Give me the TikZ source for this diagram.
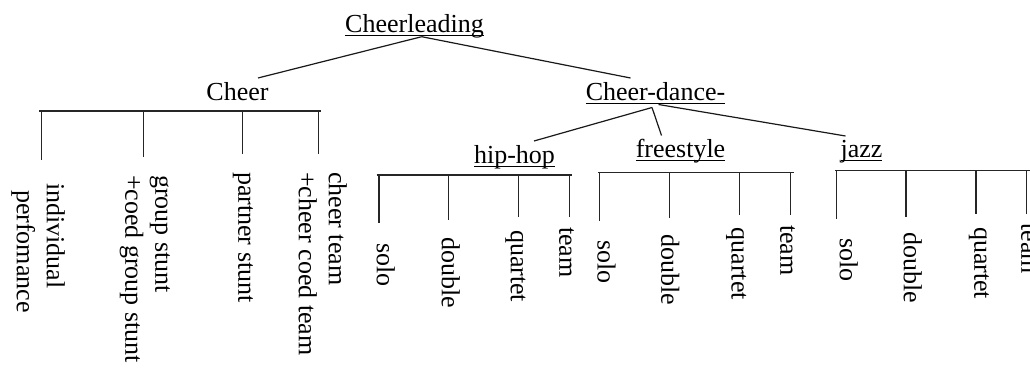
\documentclass[tikz,border=0pt]{standalone}
\usepackage{fontspec}
\setmainfont{Liberation Serif}
% underline at a fixed depth below the baseline, crossing descenders
\newcommand\ulword[1]{\setbox0=\hbox{#1}\rlap{\rule[-3.8pt]{\wd0}{1.2pt}}\box0}

\begin{document}
\begin{tikzpicture}[x=1pt,y=-1pt,
  every node/.style={inner sep=0pt, outer sep=0pt,
    font=\fontsize{26pt}{30pt}\selectfont},
  head/.style={anchor=base},
  leaf/.style={rotate=-90, anchor=north west, align=left},
  link/.style={line width=1.2pt, draw=black!90},
  rail/.style={line width=1.3pt, draw=black!85}]

\useasboundingbox[fill=white] (0,0) rectangle (1030,369);

% ---- category headings
\node[head] (root)   at (414.5,32.5) {\ulword{Cheerleading}};
\node[head] (cheer)  at (237.5,100)  {Cheer};
\node[head] (dance)  at (655.5,100)  {\ulword{Cheer-dance-}};
\node[head] (hiphop) at (514.5,163)  {\ulword{hip-hop}};
\node[head] (free)   at (680.5,157)  {\ulword{freestyle}};
\node[head] (jazz)   at (861.5,157)  {\ulword{jazz}};

% ---- links between headings
\draw[link] ([xshift=7.2pt,yshift=-4.2pt]root.base) -- ([xshift=20.5pt,yshift=22pt]cheer.base);
\draw[link] ([xshift=7.2pt,yshift=-4.2pt]root.base) -- ([xshift=-25pt,yshift=22pt]dance.base);
\draw[link] ([xshift=-3.5pt,yshift=-7.5pt]dance.base) -- ([xshift=19.5pt,yshift=22pt]hiphop.base);
\draw[link] ([xshift=-3.5pt,yshift=-7.5pt]dance.base) -- ([xshift=-19pt,yshift=21.5pt]free.base);
\draw[link] ([xshift=3pt,yshift=-4.5pt]dance.base) -- ([xshift=-16pt,yshift=21pt]jazz.base);

% ---- Cheer events
\node[leaf] (c1) at (65,183)  {individual\\\hspace*{7pt}perfomance};
\node[leaf] (c2) at (170,175) {group stunt\\+coed group stunt};
\node[leaf] (c3) at (253,172) {partner stunt};
\node[leaf] (c4) at (347,172) {cheer team\\+cheer coed team};

\coordinate (cbarL) at (39.3,111);
\coordinate (cbarR) at (321,111);
\coordinate (c1e) at (41.7,160);
\coordinate (c2e) at (143.5,157);
\coordinate (c3e) at (242.8,154);
\coordinate (c4e) at (318.3,154);
\draw[rail] (cbarL) -- (cbarR);
\foreach \e in {c1e,c2e,c3e,c4e} \draw[rail] (\e |- cbarL) -- (\e);

% ---- hip-hop events
\node[leaf] (h1) at (395,243)   {solo};
\node[leaf] (h2) at (460,237)   {double};
\node[leaf] (h3) at (525.4,230) {quartet};
\node[leaf] (h4) at (574,227)   {team};

\coordinate (hbarL) at (376.7,175);
\coordinate (hbarR) at (572,175);
\coordinate (h1e) at (379,222.7);
\coordinate (h2e) at (448.3,220);
\coordinate (h3e) at (518.2,216.7);
\coordinate (h4e) at (569.3,216.7);
\draw[rail] (hbarL) -- (hbarR);
\foreach \e in {h1e,h2e,h3e,h4e} \draw[rail] (\e |- hbarL) -- (\e);

% ---- freestyle events
\node[leaf] (f1) at (615.7,240)   {solo};
\node[leaf] (f2) at (679.3,234.4) {double};
\node[leaf] (f3) at (746.3,227.7) {quartet};
\node[leaf] (f4) at (795,225)     {team};

\coordinate (fbarL) at (598,172.5);
\coordinate (fbarR) at (793.6,172.5);
\coordinate (f1e) at (599.8,221);
\coordinate (f2e) at (669.8,218);
\coordinate (f3e) at (739.5,214.8);
\coordinate (f4e) at (790.3,214.8);
\draw[rail] (fbarL) -- (fbarR);
\foreach \e in {f1e,f2e,f3e,f4e} \draw[rail] (\e |- fbarL) -- (\e);

% ---- jazz events
\node[leaf] (j1) at (858,238.5)  {solo};
\node[leaf] (j2) at (922,232.7)  {double};
\node[leaf] (j3) at (989,227)    {quartet};
\node[leaf] (j4) at (1036,223.5) {team};

\coordinate (jbarL) at (835,170.8);
\coordinate (jbarR) at (1031,170.8);
\coordinate (j1e) at (836.6,219.2);
\coordinate (j2e) at (906,216.5);
\coordinate (j3e) at (976,213.5);
\coordinate (j4e) at (1026.7,213.5);
\draw[rail] (jbarL) -- (jbarR);
\foreach \e in {j1e,j2e,j3e,j4e} \draw[rail] (\e |- jbarL) -- (\e);

\end{tikzpicture}
\end{document}
